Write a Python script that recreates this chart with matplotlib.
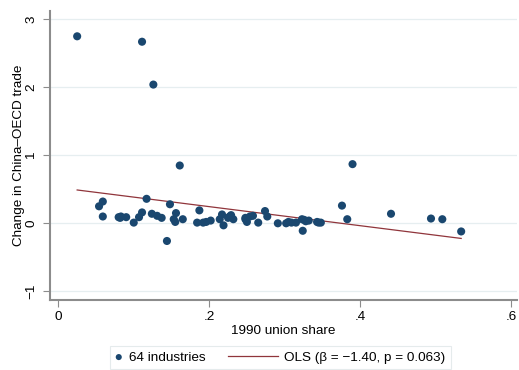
import numpy as np
import matplotlib
matplotlib.use('Agg')
import matplotlib.pyplot as plt
from matplotlib.legend_handler import HandlerPathCollection, HandlerLine2D

plt.rcParams['font.family'] = ['Liberation Sans', 'DejaVu Sans']

# 64 industries: 1990 union share vs change in China-OECD trade
union_share = [0.025, 0.111, 0.126, 0.161, 0.390, 0.441, 0.494, 0.509, 0.534,
               0.054, 0.059, 0.059, 0.080, 0.083, 0.090, 0.100, 0.107, 0.111,
               0.117, 0.124, 0.131, 0.137, 0.144, 0.148, 0.156, 0.153, 0.155,
               0.165, 0.187, 0.184, 0.192, 0.196, 0.202, 0.214, 0.217, 0.219,
               0.225, 0.229, 0.232, 0.248, 0.250, 0.254, 0.258, 0.265, 0.274,
               0.277, 0.291, 0.302, 0.305, 0.309, 0.315, 0.323, 0.326, 0.332,
               0.324, 0.343, 0.348, 0.376, 0.383, 0.082, 0.227, 0.248, 0.328,
               0.345]
trade_change = [2.75, 2.67, 2.04, 0.85, 0.87, 0.14, 0.07, 0.06, -0.12,
                0.25, 0.32, 0.10, 0.09, 0.10, 0.09, 0.01, 0.09, 0.16,
                0.36, 0.14, 0.11, 0.08, -0.26, 0.28, 0.15, 0.06, 0.02,
                0.06, 0.19, 0.01, 0.01, 0.02, 0.04, 0.06, 0.13, -0.03,
                0.08, 0.12, 0.06, 0.06, 0.02, 0.10, 0.11, 0.01, 0.18,
                0.10, 0.00, 0.00, 0.02, 0.01, 0.01, 0.06, 0.05, 0.04,
                -0.11, 0.02, 0.01, 0.26, 0.06, 0.08, 0.10, 0.08, 0.03,
                0.01]

# OLS fit reported in the legend
ols_slope = -1.40
ols_intercept = 0.525
ols_p = 0.063

xticks = [0, 0.2, 0.4, 0.6]
xtick_labels = ['0', '.2', '.4', '.6']
yticks = [-1, 0, 1, 2, 3]
ytick_labels = ['−1', '0', '1', '2', '3']

navy = '#1a476f'
maroon = '#90353b'
axis_gray = '#8c8c8c'


# legend keys: short handle box, marker at its right end, line reaching out to the left
class RightMarker(HandlerPathCollection):
    def get_xdata(self, legend, xdescent, ydescent, width, height, fontsize):
        x = -xdescent + width - 0.25 * fontsize
        return [x], [x]


class LongLine(HandlerLine2D):
    def get_xdata(self, legend, xdescent, ydescent, width, height, fontsize):
        end = -xdescent + width
        return [end - 3.7 * fontsize, end], [end]


fig = plt.figure(figsize=(5.19, 3.70), dpi=100)
ax = fig.add_axes([50 / 519, 70 / 370, 467 / 519, 289 / 370])

pts = ax.scatter(union_share, trade_change, s=34, color=navy, edgecolors='none',
                 zorder=3, label='64 industries')
xfit = np.array([min(union_share), max(union_share)])
fit_line, = ax.plot(xfit, ols_intercept + ols_slope * xfit, color=maroon, lw=0.9,
                    zorder=2,
                    label=f'OLS (β = −{abs(ols_slope):.2f}, p = {ols_p:.3f})')

ax.set_xlim(-0.011, 0.608)
ax.set_ylim(-1.128, 3.122)
ax.set_xticks(xticks)
ax.set_xticklabels(xtick_labels)
ax.set_yticks(yticks)
ax.set_yticklabels(ytick_labels, rotation=90, va='center')
ax.grid(axis='y', color='#e6eef0', lw=0.9, zorder=0)
ax.set_axisbelow(True)

for side in ['top', 'right']:
    ax.spines[side].set_visible(False)
for side in ['left', 'bottom']:
    ax.spines[side].set_color(axis_gray)
    ax.spines[side].set_linewidth(1.5)
ax.tick_params(axis='x', colors=axis_gray, labelcolor='black', labelsize=9.7,
               length=5, width=0.8, pad=3)
ax.tick_params(axis='y', colors=axis_gray, labelcolor='black', labelsize=9.7,
               length=5, width=0.8, pad=4)

ax.set_xlabel('1990 union share', fontsize=9.7, labelpad=1)
ax.set_ylabel('Change in China–OECD trade', fontsize=9.7, va='center')
ax.yaxis.set_label_coords(-0.067, 0.5)

leg = fig.legend(loc='lower left', bbox_to_anchor=(110 / 519, 1 / 370), ncol=2,
                 fontsize=9.7, frameon=True, fancybox=False, edgecolor='#dfe6e8',
                 handlelength=0.5, handletextpad=0.5, columnspacing=4.85,
                 borderpad=0.4, borderaxespad=0, scatterpoints=1, markerscale=0.75,
                 handler_map={pts: RightMarker(numpoints=1), fit_line: LongLine()})
leg.get_frame().set_linewidth(0.8)

fig.savefig('out.png', dpi=100)
